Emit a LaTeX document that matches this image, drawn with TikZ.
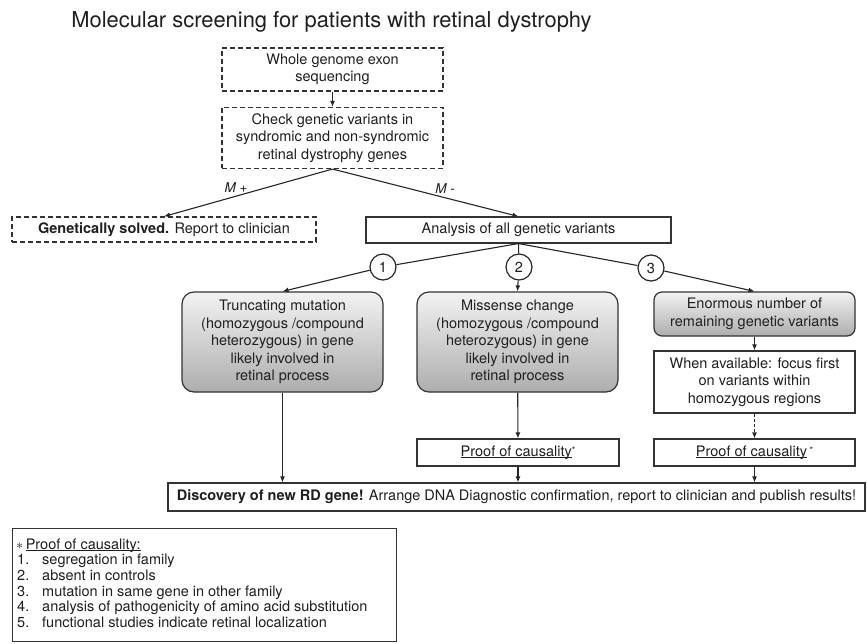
\documentclass[tikz,border=0pt]{standalone}
\usepackage{fontspec}
\setmainfont{TeX Gyre Heros}
\usepackage{tikz}
\usetikzlibrary{arrows.meta}

\newcommand{\ulbase}[1]{\underline{\smash{#1}}\vphantom{#1}}
\newcommand{\starmark}{\raisebox{3pt}{\fontsize{9}{9}\selectfont *}}

\begin{document}
\begin{tikzpicture}[x=1pt,y=-1pt,
		every node/.style={text=black!88, font=\fontsize{14.5}{17.5}\selectfont},
		dashbox/.style={draw=black!80, line width=1.1pt, dash pattern=on 5pt off 3pt, align=center, inner sep=0pt},
		plainbox/.style={draw=black!80, line width=1.1pt, align=center, inner sep=0pt},
		roundbox/.style={draw=black!80, line width=1.2pt, rounded corners=12pt, top color=black!5, bottom color=black!32, align=center, inner sep=0pt},
		numcirc/.style={circle, draw=black!85, line width=1.2pt, fill=white, minimum size=26pt, inner sep=0pt},
		legline/.style={anchor=base west, inner sep=0pt},
		link/.style={line width=1.1pt, draw=black!85},
		arr/.style={link, -{Latex[length=6pt,width=5pt]}},
	]

			\path [use as bounding box, fill=white] (0,0) rectangle (867,644);

			\node (title) [anchor=base, font=\fontsize{21.9}{26}\selectfont] at (331.5,28) {Molecular screening for patients with retinal dystrophy};

			\node (wgs) [dashbox, minimum width=221pt, minimum height=43pt] at (332.5,69.5) {Whole genome exon\\sequencing};
			\node (check) [dashbox, minimum width=221pt, minimum height=61pt] at (332.5,138) {Check genetic variants in\\syndromic and non-syndromic\\retinal dystrophy genes};

			\node (solved) [dashbox, minimum width=304pt, minimum height=25pt] at (164,229.5) {\textbf{Genetically solved.} Report to clinician};
			\node (analysis) [plainbox, minimum width=305pt, minimum height=26pt] at (518.5,230) {Analysis of all genetic variants};

			\node (mplus) [font=\fontsize{13.5}{16}\selectfont] at (236,188) {\textit{M +}};
			\node (mminus) [font=\fontsize{13.5}{16}\selectfont] at (445,189) {\textit{M -}};

			\node (c1) [numcirc] at (383,267) {1};
			\node (c2) [numcirc] at (519,267) {2};
			\node (c3) [numcirc] at (651,268) {3};

			\node (trunc) [roundbox, minimum width=201pt, minimum height=100pt] at (282.5,342) {Truncating mutation\\(homozygous /compound\\heterozygous) in gene\\likely involved in\\retinal process};
			\node (missense) [roundbox, minimum width=201pt, minimum height=100pt] at (517.5,342) {Missense change\\(homozygous /compound\\heterozygous) in gene\\likely involved in\\retinal process};
			\node (enorm) [roundbox, rounded corners=8pt, minimum width=201pt, minimum height=44pt] at (754.5,314) {Enormous number of\\remaining genetic variants};
			\node (focus) [plainbox, minimum width=201pt, minimum height=62pt] at (754.5,382) {When available: focus first\\on variants within\\homozygous regions};

			\node (proofa) [plainbox, minimum width=202pt, minimum height=27pt] at (518,452.5) {\ulbase{Proof of causality}\starmark};
			\node (proofb) [plainbox, minimum width=201pt, minimum height=27pt] at (754.5,452.5) {\ulbase{Proof of causality}\,\starmark};

			\node (discovery) [plainbox, minimum width=697pt, minimum height=28pt] at (516.5,497) {\textbf{Discovery of new RD gene!} Arrange DNA Diagnostic confirmation, report to clinician and publish results!};

			\node (legend) [plainbox, anchor=north west, minimum width=384pt, minimum height=113pt] at (12,528) {};
			\node (lghead) [legline] at (16,549) {$\ast$\,\ulbase{Proof of causality:}};
			\node (lgone) [legline] at (17,564.7) {\makebox[25pt][l]{1.}segregation in family};
			\node (lgtwo) [legline] at (17,580.4) {\makebox[25pt][l]{2.}absent in controls};
			\node (lgthree) [legline] at (17,596.1) {\makebox[25pt][l]{3.}mutation in same gene in other family};
			\node (lgfour) [legline] at (17,611.8) {\makebox[25pt][l]{4.}analysis of pathogenicity of amino acid substitution};
			\node (lgfive) [legline] at (17,627.5) {\makebox[25pt][l]{5.}functional studies indicate retinal localization};

			\draw [arr] (wgs) -- (check);
			\draw [arr] (check.south) -- (solved.north);
			\draw [arr] (check.south) -- (analysis.north);

			\draw [link] (analysis.south) -- (c1);
			\draw [link] (analysis.south) -- (c2);
			\draw [link] (analysis.south) -- (c3);
			\draw [arr] (c1) -- (trunc.north);
			\draw [arr] (c2) -- (missense.north);
			\draw [arr] (c3) -- (enorm.north);

			\draw [arr] (enorm) -- (focus);
			\draw [arr, dash pattern=on 3pt off 2pt] (focus) -- (proofb);
			\draw [arr] (missense) -- (proofa);

			\draw [arr] (trunc.south) -- (trunc.south |- discovery.north);
			\draw [arr] (proofa.south) -- (proofa.south |- discovery.north);
			\draw [arr] (proofb.south) -- (proofb.south |- discovery.north);
		\end{tikzpicture}
\end{document}
